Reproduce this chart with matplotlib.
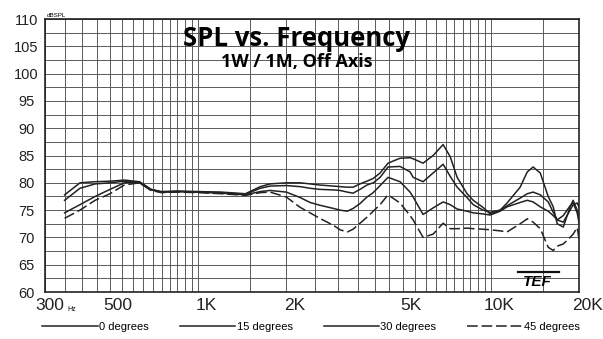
import numpy as np
import matplotlib.pyplot as plt
from matplotlib.lines import Line2D
from matplotlib.transforms import ScaledTranslation

# frequency points (Hz)
freqs = [350, 395, 445, 500, 560, 630, 690, 750, 850, 1000, 1200, 1450, 1630, 1760,
         2000, 2230, 2410, 2600, 2900, 3050, 3230, 3380, 3570, 3770, 3960, 4180, 4450,
         4890, 5290, 5420, 5860, 6340, 6860, 7250, 7660, 8280, 8690, 9390, 9930, 10740,
         11340, 12570, 13290, 13920, 14720, 15670, 16300, 16820, 17640, 18620, 19060,
         19680, 20000]

spl_0 = [77.8, 80.0, 80.2, 80.3, 80.5, 80.2, 78.8, 78.4, 78.5, 78.4, 78.3, 78.0, 79.3, 79.8,
         80.0, 80.0, 79.8, 79.6, 79.4, 79.3, 79.2, 79.2, 79.8, 80.3, 80.8, 81.8, 83.6,
         84.5, 84.6, 84.4, 83.6, 85.0, 87.0, 84.8, 81.0, 78.0, 76.8, 75.5, 74.3, 75.0,
         76.3, 79.2, 82.0, 82.9, 81.8, 77.5, 75.6, 72.5, 71.9, 75.6, 76.8,
         75.0, 73.5]

spl_15 = [76.8, 79.0, 79.8, 80.0, 80.3, 80.0, 78.7, 78.3, 78.4, 78.3, 78.2, 77.9, 79.0, 79.4,
          79.5, 79.3, 79.0, 78.8, 78.7, 78.6, 78.3, 78.1, 78.8, 79.6, 80.0, 81.0, 82.9,
          83.0, 82.0, 81.0, 80.2, 81.8, 83.4, 81.2, 79.2, 77.3, 76.0, 75.0, 74.6, 75.0,
          75.8, 77.2, 78.0, 78.3, 77.8, 76.5, 74.6, 73.2, 72.8, 75.0, 76.0,
          76.3, 75.5]

spl_30 = [74.5, 76.0, 77.5, 78.8, 80.0, 80.2, 78.8, 78.3, 78.4, 78.3, 78.1, 77.8, 78.4, 78.6,
          78.3, 77.3, 76.4, 75.9, 75.3, 75.0, 74.8, 75.3, 76.2, 77.4, 78.2, 79.5, 81.0,
          80.2, 78.3, 77.4, 74.2, 75.4, 76.5, 76.0, 75.2, 74.8, 74.5, 74.3, 74.1, 74.8,
          75.6, 76.4, 76.8, 76.5, 75.6, 74.8, 74.0, 73.2, 74.0, 75.8, 76.3,
          74.5, 72.5]

spl_45 = [73.5, 75.0, 76.8, 78.0, 79.6, 80.0, 78.6, 78.2, 78.3, 78.2, 78.0, 77.7, 78.2, 78.3,
          77.4, 75.5, 74.5, 73.5, 72.2, 71.4, 71.0, 71.5, 72.6, 73.7, 74.8, 76.0, 77.8,
          76.3, 74.0, 73.2, 70.0, 70.6, 72.6, 71.6, 71.6, 71.7, 71.6, 71.5, 71.4, 71.2,
          71.0, 72.5, 73.4, 72.8, 71.6, 68.2, 67.6, 68.4, 68.8, 70.0, 70.6,
          71.8, 69.5]

xtick_vals = [300, 500, 1000, 2000, 5000, 10000, 20000]
xtick_labels = ['300', '500', '1K', '2K', '5K', '10K', '20K']
ytick_vals = list(range(60, 111, 5))

# chart-paper grid lines
grid_x = list(range(300, 1001, 50)) + list(range(1500, 10001, 500)) + [15000, 20000]
grid_y = np.arange(60, 110.1, 2.5)

plt.rcParams['font.family'] = ['Liberation Sans', 'DejaVu Sans']

fig = plt.figure(figsize=(6.03, 3.39), dpi=100)
ax = fig.add_axes([0.0746, 0.1386, 0.886, 0.8053])

ax.set_xscale('log')
ax.set_xlim(300, 20000)
ax.set_ylim(60, 110)

for gx in grid_x:
    ax.axvline(gx, color='#5a5a5a', lw=0.7, zorder=1)
for gy in grid_y:
    ax.axhline(gy, color='#5a5a5a', lw=0.7, zorder=1)

ax.plot(freqs, spl_0, color='#222222', lw=1.1, zorder=3, label='0 degrees')
ax.plot(freqs, spl_15, color='#222222', lw=1.1, zorder=3, label='15 degrees')
ax.plot(freqs, spl_30, color='#222222', lw=1.1, zorder=3, label='30 degrees')
ax.plot(freqs, spl_45, color='#222222', lw=1.1, zorder=3, dashes=(7, 2.5), label='45 degrees')

ax.minorticks_off()
ax.set_xticks(xtick_vals)
ax.set_xticklabels(xtick_labels, fontsize=12.5)
ax.set_yticks(ytick_vals)
ax.set_yticklabels([str(v) for v in ytick_vals], fontsize=10.5)
ax.tick_params(axis='both', length=0, colors='#222222')
ax.tick_params(axis='x', pad=4)
ax.tick_params(axis='y', pad=13.5)
for lab in ax.get_yticklabels():
    lab.set_ha('center')
for i, lab in enumerate(ax.get_xticklabels()):
    shift = 5 if i == 0 else 8
    lab.set_transform(lab.get_transform() + ScaledTranslation(shift / 100, 0, fig.dpi_scale_trans))

for s in ax.spines.values():
    s.set_linewidth(1.2)
    s.set_color('#222222')

# small unit labels
ax.text(0.003, 1.005, 'dBSPL', transform=ax.transAxes, fontsize=4.5, ha='left', va='bottom')
ax.text(0.041, -0.052, 'Hz', transform=ax.transAxes, fontsize=5, ha='left', va='top')

# titles inside the plot
ax.text(0.47, 0.927, 'SPL vs. Frequency', transform=ax.transAxes, fontsize=18.5,
        fontweight='bold', ha='center', va='center', family='Open Sans', zorder=5)
ax.text(0.472, 0.843, '1W / 1M, Off Axis', transform=ax.transAxes, fontsize=13,
        fontweight='bold', ha='center', va='center', family='Open Sans', zorder=5)

# TEF logo
ax.text(0.921, 0.037, 'TEF', transform=ax.transAxes, fontsize=11, fontweight='heavy',
        style='italic', ha='center', va='center', zorder=5)
ax.add_line(Line2D([0.885, 0.962], [0.072, 0.072], transform=ax.transAxes,
                   color='#111111', lw=1.6, zorder=5))

fig.legend(loc='lower center', bbox_to_anchor=(0.516, -0.008), ncol=4, frameon=False,
           fontsize=8, handlelength=5.0, handletextpad=0.1, columnspacing=2.8)

plt.savefig('out.png', dpi=100)
